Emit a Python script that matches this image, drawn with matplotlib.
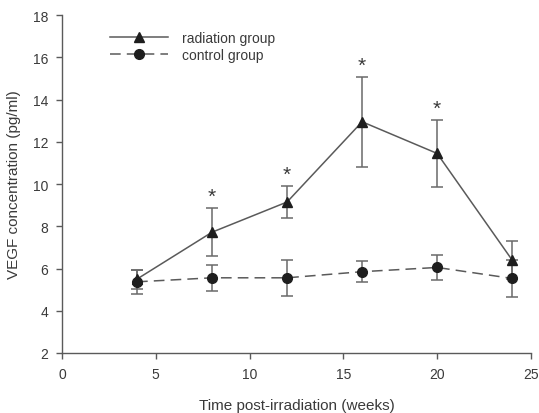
import matplotlib
matplotlib.use("Agg")
import matplotlib.pyplot as plt

plt.rcParams['font.family'] = ['Liberation Sans', 'DejaVu Sans']

weeks = [4, 8, 12, 16, 20, 24]

# radiation group
rad_mean = [5.50, 7.72, 9.15, 12.95, 11.45, 6.40]
rad_err = [0.45, 1.15, 0.76, 2.12, 1.57, 0.92]

# control group
ctl_mean = [5.37, 5.56, 5.56, 5.85, 6.05, 5.53]
ctl_err = [0.58, 0.61, 0.84, 0.51, 0.58, 0.87]

# significance marks (weeks with p < 0.05)
star_weeks = [8, 12, 16, 20]

line_col = "#5a5a5a"
mark_col = "#1e1e1e"
text_col = "#3a3a3a"

fig = plt.figure(figsize=(5.39, 4.14), dpi=100)
ax = fig.add_axes([0.115, 0.145, 0.87, 0.816])

rad = ax.errorbar(weeks, rad_mean, yerr=rad_err, color=line_col, lw=1.1,
                  marker="^", ms=6.5, mfc=mark_col, mec=mark_col,
                  ecolor="#6a6a6a", elinewidth=1.1, capsize=4, capthick=1.1,
                  zorder=3)
ctl = ax.errorbar(weeks, ctl_mean, yerr=ctl_err, color=line_col, lw=1.1,
                  ls=(0, (7, 4)), marker="o", ms=7, mfc=mark_col,
                  mec=mark_col, ecolor="#6a6a6a", elinewidth=1.1, capsize=4,
                  capthick=1.1, zorder=3)

for w in star_weeks:
    i = weeks.index(w)
    ax.text(w, rad_mean[i] + rad_err[i] + 0.55, "*", ha="center",
            va="center", fontsize=15, color=text_col)

ax.set_xlim(0, 25)
ax.set_ylim(2, 18)
ax.set_xticks([0, 5, 10, 15, 20, 25])
ax.set_yticks([2, 4, 6, 8, 10, 12, 14, 16, 18])

for s in ["top", "right"]:
    ax.spines[s].set_visible(False)
for s in ["left", "bottom"]:
    ax.spines[s].set_color(line_col)
    ax.spines[s].set_linewidth(1.0)

ax.tick_params(direction="out", length=4, width=1, colors=line_col,
               labelcolor=text_col, labelsize=10, pad=6)

ax.set_xlabel("Time post-irradiation (weeks)", fontsize=11, color=text_col,
              labelpad=12)
ax.set_ylabel("VEGF concentration (pg/ml)", fontsize=11, color=text_col,
              labelpad=8)

# legend with plain line handles (no error bars)
ax.legend([rad.lines[0], ctl.lines[0]], ["radiation group", "control group"],
          loc="upper left", bbox_to_anchor=(0.075, 0.99), frameon=False,
          fontsize=10, handlelength=4.2, handletextpad=1.0,
          labelspacing=0.2, labelcolor=text_col)

fig.savefig("out.png", dpi=100)
